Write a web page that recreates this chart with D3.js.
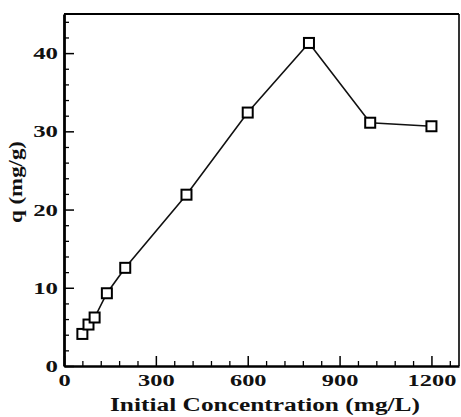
<!DOCTYPE html>
<html>
<head>
<meta charset="utf-8">
<script src="https://cdn.jsdelivr.net/npm/d3@7"></script>
<style>
  body { margin: 0; background: #fff; }
  text { font-family: "Liberation Serif", "DejaVu Serif", serif; font-weight: bold; fill: #111; }
</style>
</head>
<body>
<svg id="chart" width="461" height="417"></svg>
<script>
const concentration = [60, 80, 100, 140, 200, 400, 600, 800, 1000, 1200];
const qValues = [4.1, 5.3, 6.2, 9.3, 12.55, 21.9, 32.4, 41.3, 31.1, 30.65];
const xTicks = [0, 300, 600, 900, 1200];
const yTicks = [0, 10, 20, 30, 40];
const xMinor = d3.range(0, 1261, 60).filter(v => v % 300 !== 0);
const yMinor = d3.range(0, 45, 2).filter(v => v % 10 !== 0);

const svg = d3.select("#chart");
const plotLeft = 64, plotRight = 459, plotTop = 14, plotBottom = 366;

const x = d3.scaleLinear().domain([0, 1290]).range([plotLeft, plotRight]);
const y = d3.scaleLinear().domain([0, 45]).range([plotBottom, plotTop]);

// frame
svg.append("line").attr("x1", plotLeft).attr("x2", plotRight).attr("y1", plotTop).attr("y2", plotTop)
  .attr("stroke", "#000").attr("stroke-width", 2.2);
svg.append("line").attr("x1", plotRight).attr("x2", plotRight).attr("y1", plotTop).attr("y2", plotBottom)
  .attr("stroke", "#000").attr("stroke-width", 1.6);

// minor ticks
svg.append("g").attr("transform", `translate(0,${plotBottom})`)
  .call(d3.axisBottom(x).tickValues(xMinor).tickSize(-5).tickFormat(""))
  .call(g => g.select(".domain").remove())
  .selectAll("line").attr("stroke-width", 1.3);
svg.append("g").attr("transform", `translate(${plotLeft},0)`)
  .call(d3.axisLeft(y).tickValues(yMinor).tickSize(-5).tickFormat(""))
  .call(g => g.select(".domain").remove())
  .selectAll("line").attr("stroke-width", 1.3);

// major ticks + labels
const xAxis = svg.append("g").attr("transform", `translate(0,${plotBottom})`)
  .call(d3.axisBottom(x).tickValues(xTicks).tickSize(-10).tickSizeOuter(0).tickFormat(d3.format("d")));
xAxis.select(".domain").attr("stroke-width", 2.4);
xAxis.selectAll("line").attr("stroke-width", 1.5);
xAxis.selectAll("text")
  .attr("y", 20).attr("dy", null)
  .attr("font-size", 17)
  .attr("textLength", d => String(d).length * 12.2)
  .attr("lengthAdjust", "spacingAndGlyphs");

const yAxis = svg.append("g").attr("transform", `translate(${plotLeft},0)`)
  .call(d3.axisLeft(y).tickValues(yTicks).tickSize(-10).tickSizeOuter(0));
yAxis.select(".domain").attr("stroke-width", 2.8);
yAxis.selectAll("line").attr("stroke-width", 1.5);
yAxis.selectAll("text")
  .attr("x", -6).attr("dy", 5.5)
  .attr("font-size", 17)
  .attr("textLength", d => String(d).length * 12.4)
  .attr("lengthAdjust", "spacingAndGlyphs");

// series
const line = d3.line().x((d, i) => x(concentration[i])).y(d => y(d));
svg.append("path").datum(qValues)
  .attr("d", line)
  .attr("fill", "none").attr("stroke", "#111").attr("stroke-width", 1.6);

svg.selectAll("rect.pt").data(qValues).join("rect")
  .attr("class", "pt")
  .attr("x", (d, i) => x(concentration[i]) - 5)
  .attr("y", d => y(d) - 5)
  .attr("width", 10).attr("height", 10)
  .attr("fill", "#fff").attr("stroke", "#000").attr("stroke-width", 2);

// axis titles
svg.append("text")
  .attr("x", 265).attr("y", 411)
  .attr("text-anchor", "middle")
  .attr("font-size", 18)
  .attr("textLength", 310).attr("lengthAdjust", "spacingAndGlyphs")
  .text("Initial Concentration (mg/L)");

svg.append("text")
  .attr("transform", "translate(22,182) rotate(-90)")
  .attr("text-anchor", "middle")
  .attr("font-size", 18)
  .attr("textLength", 82).attr("lengthAdjust", "spacingAndGlyphs")
  .text("q (mg/g)");
</script>
</body>
</html>
